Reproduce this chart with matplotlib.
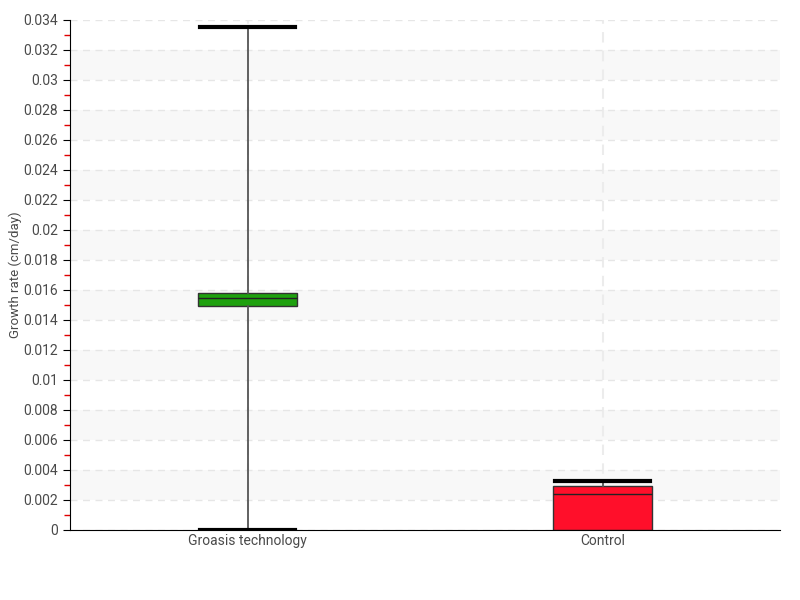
import matplotlib.pyplot as plt
from matplotlib.ticker import MultipleLocator, FuncFormatter

categories = ["Groasis technology", "Control"]
whislo = [0.0, 0.0]
q1 = [0.01493, 0.0]
med = [0.01547, 0.0024]
q3 = [0.0158, 0.00295]
whishi = [0.03353, 0.00327]
colors = ["#1ea10e", "#ff0f2a"]

plt.rcParams['font.family'] = ['Roboto', 'DejaVu Sans']

fig = plt.figure(figsize=(8, 6), dpi=100)
ax = fig.add_axes([0.0875, 0.1167, 0.8875, 0.85])

stats = []
for i in range(len(categories)):
    stats.append({"whislo": whislo[i], "q1": q1[i], "med": med[i], "q3": q3[i],
                  "whishi": whishi[i], "fliers": [], "label": categories[i]})

bp = ax.bxp(stats, positions=range(len(categories)), widths=0.28, patch_artist=True,
            showfliers=False, capwidths=0.27,
            boxprops=dict(edgecolor="#333333", linewidth=1),
            medianprops=dict(color="#222222", linewidth=1),
            whiskerprops=dict(color="#555555", linewidth=1.3),
            capprops=dict(color="black", linewidth=3))
for patch, c in zip(bp["boxes"], colors):
    patch.set_facecolor(c)
# control's lower cap sits under the box
bp["caps"][2].set_visible(False)

ax.set_xlim(-0.5, 1.5)
ax.set_ylim(0, 0.034)

# alternating bands
for k in range(1, 17, 2):
    ax.axhspan(k * 0.002, (k + 1) * 0.002, color="#f8f8f8", zorder=0, lw=0)

ax.yaxis.set_major_locator(MultipleLocator(0.002))
ax.yaxis.set_minor_locator(MultipleLocator(0.001))
ax.yaxis.set_major_formatter(FuncFormatter(lambda v, p: f"{round(v, 4):g}"))
ax.grid(axis="y", which="major", color="#e6e6e6", linestyle=(0, (5, 4)), linewidth=1, zorder=0.5)
ax.grid(axis="x", color="#ececec", linestyle=(0, (5, 4)), linewidth=1.5, zorder=0.5)
ax.set_axisbelow(True)

for s in ["top", "right"]:
    ax.spines[s].set_visible(False)
ax.spines["left"].set_color("black")
ax.spines["bottom"].set_color("black")

ax.tick_params(axis="y", which="major", length=5, color="black", labelsize=10, labelcolor="#4a4a4a")
ax.tick_params(axis="y", which="minor", length=4, width=1, color="#e00000")
ax.tick_params(axis="x", length=0, labelsize=10, labelcolor="#4a4a4a", pad=3)
ax.set_xticks(range(len(categories)), categories)

ax.set_ylabel("Growth rate (cm/day)", color="#4a4a4a", fontsize=9.5)
ax.yaxis.set_label_coords(-0.068, 0.5)

fig.savefig("out.png", dpi=100)
